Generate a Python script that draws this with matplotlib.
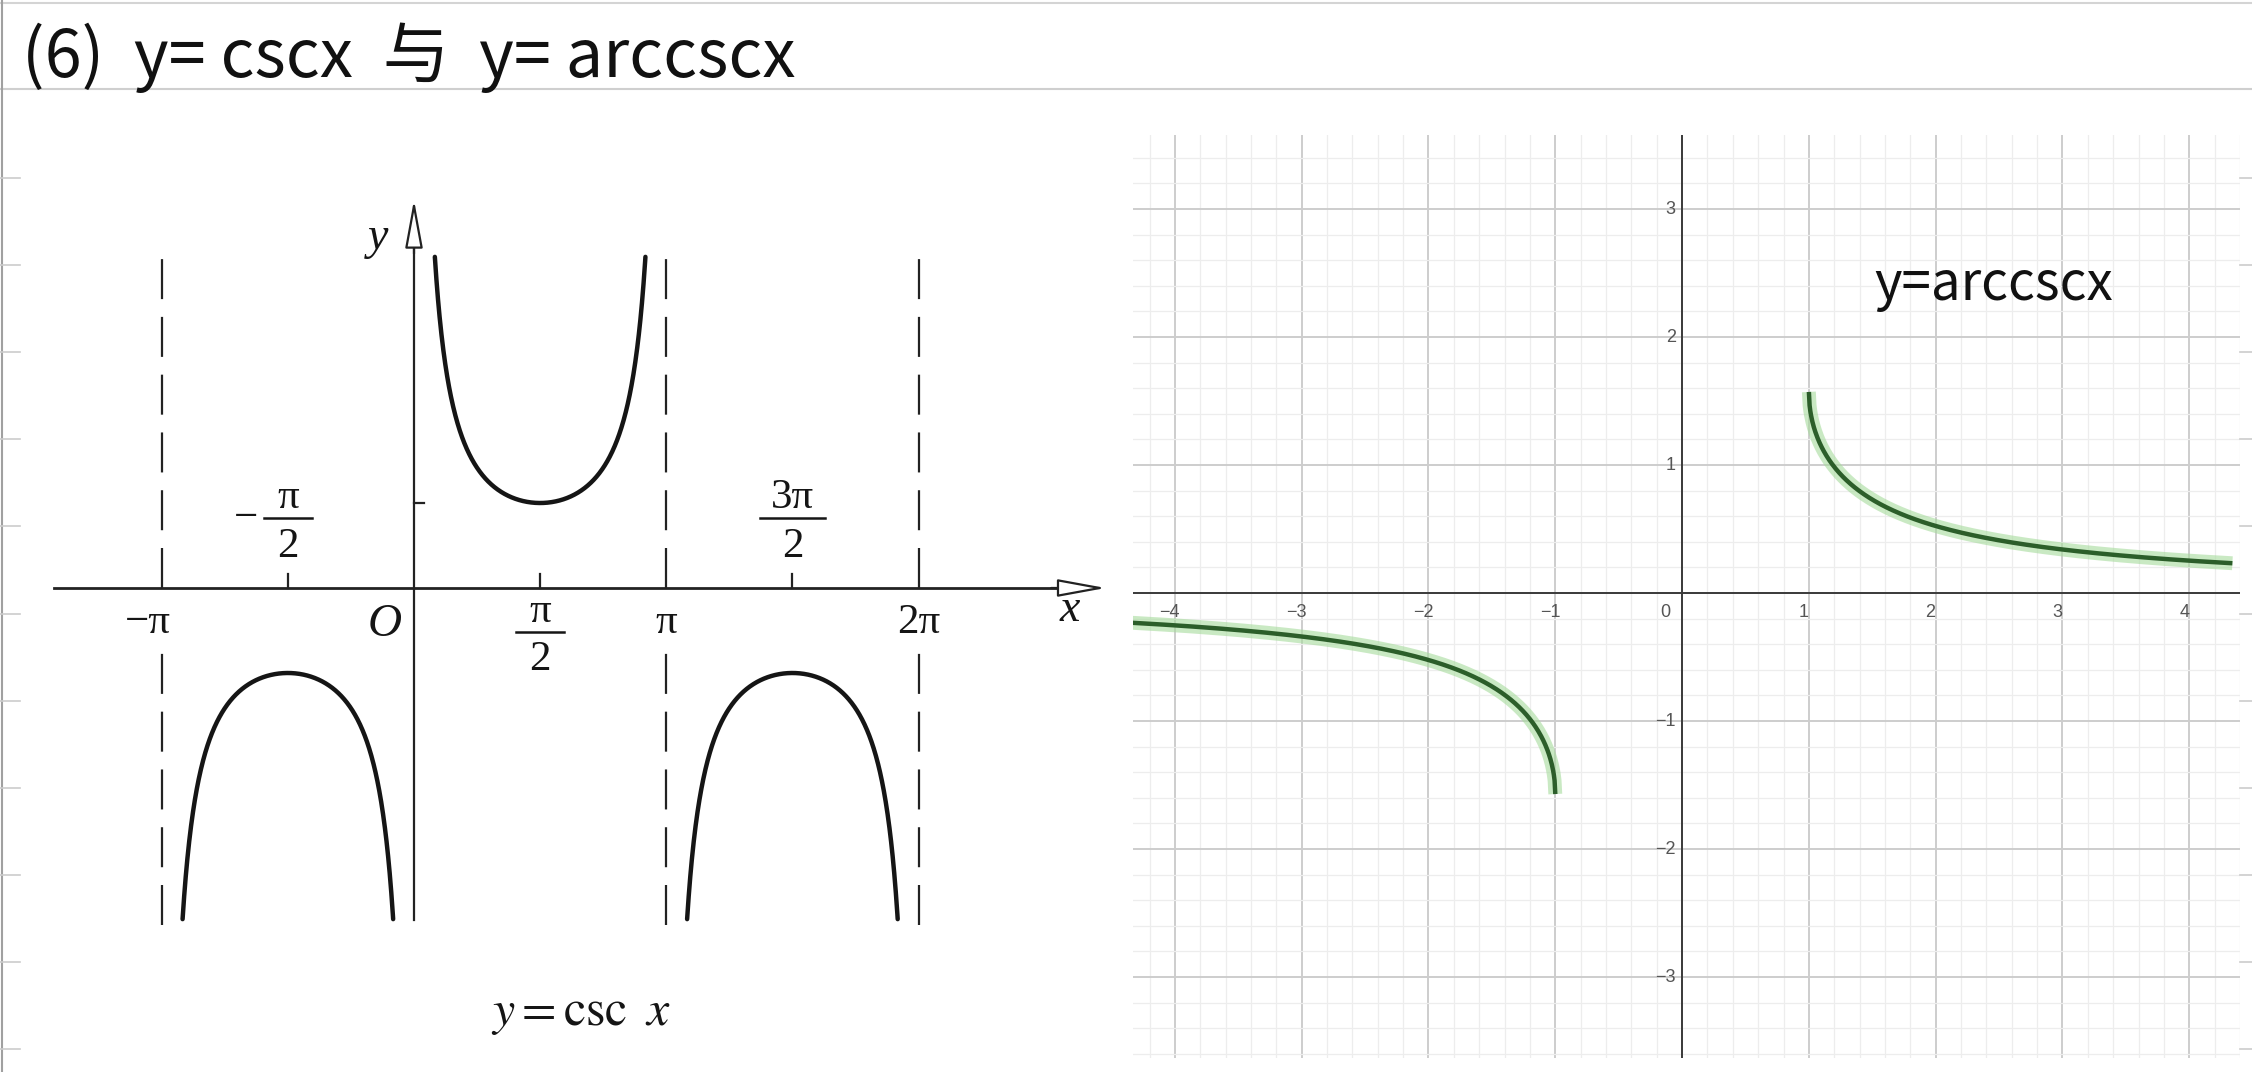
import numpy as np
import matplotlib
matplotlib.use("Agg")
import matplotlib.pyplot as plt
from matplotlib.lines import Line2D

plt.rcParams['mathtext.fontset'] = 'stix'
plt.rcParams['font.family'] = ['Noto Sans CJK SC', 'DejaVu Sans']

# ---- data: y = csc x (left, textbook figure) ----
csc_branches = [(-np.pi, 0.0), (0.0, np.pi), (np.pi, 2 * np.pi)]
csc_asymptotes = [-np.pi, np.pi, 2 * np.pi]
csc_clip = 3.9
labels_below = [(-np.pi, '\u2212\u03c0'), (np.pi, '\u03c0'), (2 * np.pi, '2\u03c0')]
fracs_below = [(np.pi / 2, '\u03c0', '2')]
fracs_above = [(-np.pi / 2, '\u03c0', '2'), (3 * np.pi / 2, '3\u03c0', '2')]

# ---- data: y = arccsc x (right, grid figure) ----
arccsc_domains = [(-4.34, -1.0), (1.0, 4.34)]
grid_x_ticks = [-4, -3, -2, -1, 1, 2, 3, 4]
grid_y_ticks = [-3, -2, -1, 1, 2, 3]

W, H = 2252, 1072
SERIF = 'Liberation Serif'
INK = '#151515'

fig = plt.figure(figsize=(W / 100, H / 100), dpi=100)
fig.patch.set_facecolor('white')

# notebook decoration
fig.add_artist(Line2D([0, 1], [1 - 3 / H, 1 - 3 / H], color='#d4d4d4', lw=1.5))
fig.add_artist(Line2D([0, 1], [1 - 89 / H, 1 - 89 / H], color='#cfcfcf', lw=1.5))
fig.add_artist(Line2D([2 / W, 2 / W], [0, 1], color='#a0a0a0', lw=1.5))
for yy in np.arange(178, H, 87.1):
    fig.add_artist(Line2D([0, 20 / W], [1 - yy / H] * 2, color='#cccccc', lw=1.2))
    fig.add_artist(Line2D([1 - 12 / W, 1], [1 - yy / H] * 2, color='#cccccc', lw=1.2))

fig.text(22 / W, 1 - 58 / H, '(6)  y= cscx  与  y= arccscx', fontsize=48,
         va='center', ha='left', color='#111111')

# ---- left panel ----
ux, uy = 80.3, 85.0
ax = fig.add_axes([0, 0, 1130 / W, (H - 130) / H])
ax.set_xlim(-414 / ux, (1130 - 414) / ux)
ax.set_ylim((588 - H) / uy, (588 - 130) / uy)
ax.axis('off')

for a, b in csc_branches:
    xs = np.linspace(a + 1e-4, b - 1e-4, 800)
    ys = 1 / np.sin(xs)
    ys[np.abs(ys) > csc_clip] = np.nan
    ax.plot(xs, ys, color=INK, lw=3.2, solid_capstyle='round')

for xa in csc_asymptotes:
    ax.plot([xa, xa], [0.0, 3.92], color='#222222', lw=1.6, ls=(0, (18, 8)))
    ax.plot([xa, xa], [-3.96, -0.75], color='#222222', lw=1.6, ls=(0, (18, 8)))

# axes with open arrowheads
ax.plot([-4.48, 8.2], [0, 0], color='#222222', lw=2.0)
ax.annotate('', xy=(8.65, 0), xytext=(7.9, 0),
            arrowprops=dict(arrowstyle='-|>,head_length=3.0,head_width=0.55',
                            fc='white', ec='#222222', lw=1.6))
ax.plot([0, 0], [-3.9, 4.1], color='#222222', lw=1.6)
ax.annotate('', xy=(0, 4.6), xytext=(0, 3.9),
            arrowprops=dict(arrowstyle='-|>,head_length=3.0,head_width=0.55',
                            fc='white', ec='#222222', lw=1.6))

for xv in [-np.pi / 2, np.pi / 2, 3 * np.pi / 2]:
    ax.plot([xv, xv], [0, 0.16], color='#222222', lw=1.6)
ax.plot([0, 0.12], [1, 1], color='#222222', lw=1.6)


def frac(x, bar_y, num, den, minus=False):
    w = 0.2 + 0.1 * len(num)
    ax.text(x, bar_y + 0.24, num, fontsize=31, family=SERIF, ha='center', va='center',
            color=INK)
    ax.plot([x - w, x + w], [bar_y, bar_y], color=INK, lw=1.8)
    ax.text(x, bar_y - 0.33, den, fontsize=31, family=SERIF, ha='center', va='center',
            color=INK)
    if minus:
        ax.text(x - w - 0.22, bar_y, '\u2212', fontsize=31, family=SERIF,
                ha='center', va='center', color=INK)


for xv, lab in labels_below:
    dx = -0.17 if xv < 0 else 0.0
    ax.text(xv + dx, -0.41, lab, fontsize=31, family=SERIF, ha='center', va='center',
            color=INK)
for xv, num, den in fracs_below:
    frac(xv, -0.52, num, den)
for xv, num, den in fracs_above:
    frac(xv, 0.82, num, den, minus=xv < 0)

ax.text(-0.37, -0.43, 'O', fontsize=34, family=SERIF, style='italic', ha='center',
        va='center', color=INK)
ax.text(8.17, -0.26, 'x', fontsize=33, family=SERIF, style='italic', ha='center',
        va='center', color=INK)
ax.text(-0.45, 4.12, 'y', fontsize=33, family=SERIF, style='italic', ha='center',
        va='center', color=INK)
ax.text(2.08, -4.98, r'$y=\mathrm{csc}\;\;x$', fontsize=36, ha='center', va='center',
        color=INK)

# ---- right panel ----
bx = fig.add_axes([1133 / W, (H - 1058) / H, (2240 - 1133) / W, (1058 - 135) / H])
bx.set_xlim((1133 - 1686) / 127.7, (2240 - 1686) / 127.7)
bx.set_ylim((593 - 1058) / 128.0, (593 - 135) / 128.0)
bx.set_xticks(np.arange(-4, 5, 1))
bx.set_yticks(np.arange(-3, 4, 1))
bx.set_xticks(np.arange(-4.2, 4.4, 0.2), minor=True)
bx.set_yticks(np.arange(-3.6, 3.6, 0.2), minor=True)
bx.grid(which='minor', color='#ededed', lw=0.9)
bx.grid(which='major', color='#cdcdcd', lw=1.4)
bx.tick_params(which='both', length=0, labelbottom=False, labelleft=False)
for s in bx.spines.values():
    s.set_visible(False)
bx.axhline(0, color='#3a3a3a', lw=1.4)
bx.axvline(0, color='#3a3a3a', lw=1.4)

for a, b in arccsc_domains:
    xs = np.linspace(a, b, 600)
    ys = np.arcsin(1 / xs)
    bx.plot(xs, ys, color='#a6db9c', lw=10, alpha=0.6, solid_capstyle='butt')
    bx.plot(xs, ys, color='#2c5e2a', lw=3.2, solid_capstyle='butt')

for t in grid_x_ticks:
    bx.text(t - 0.04, -0.15, f'{t}'.replace('-', '\u2212'), fontsize=13, ha='center',
            va='center', color='#555555', family='Liberation Sans')
bx.text(-0.13, -0.15, '0', fontsize=13, ha='center', va='center', color='#555555',
        family='Liberation Sans')
for t in grid_y_ticks:
    bx.text(-0.05, t, f'{t}'.replace('-', '\u2212'), fontsize=13, ha='right',
            va='center', color='#555555', family='Liberation Sans')

bx.text(2.46, 2.41, 'y=arccscx', fontsize=38, ha='center', va='center', color='#111111')

fig.savefig('out.png', dpi=100, facecolor='white')
